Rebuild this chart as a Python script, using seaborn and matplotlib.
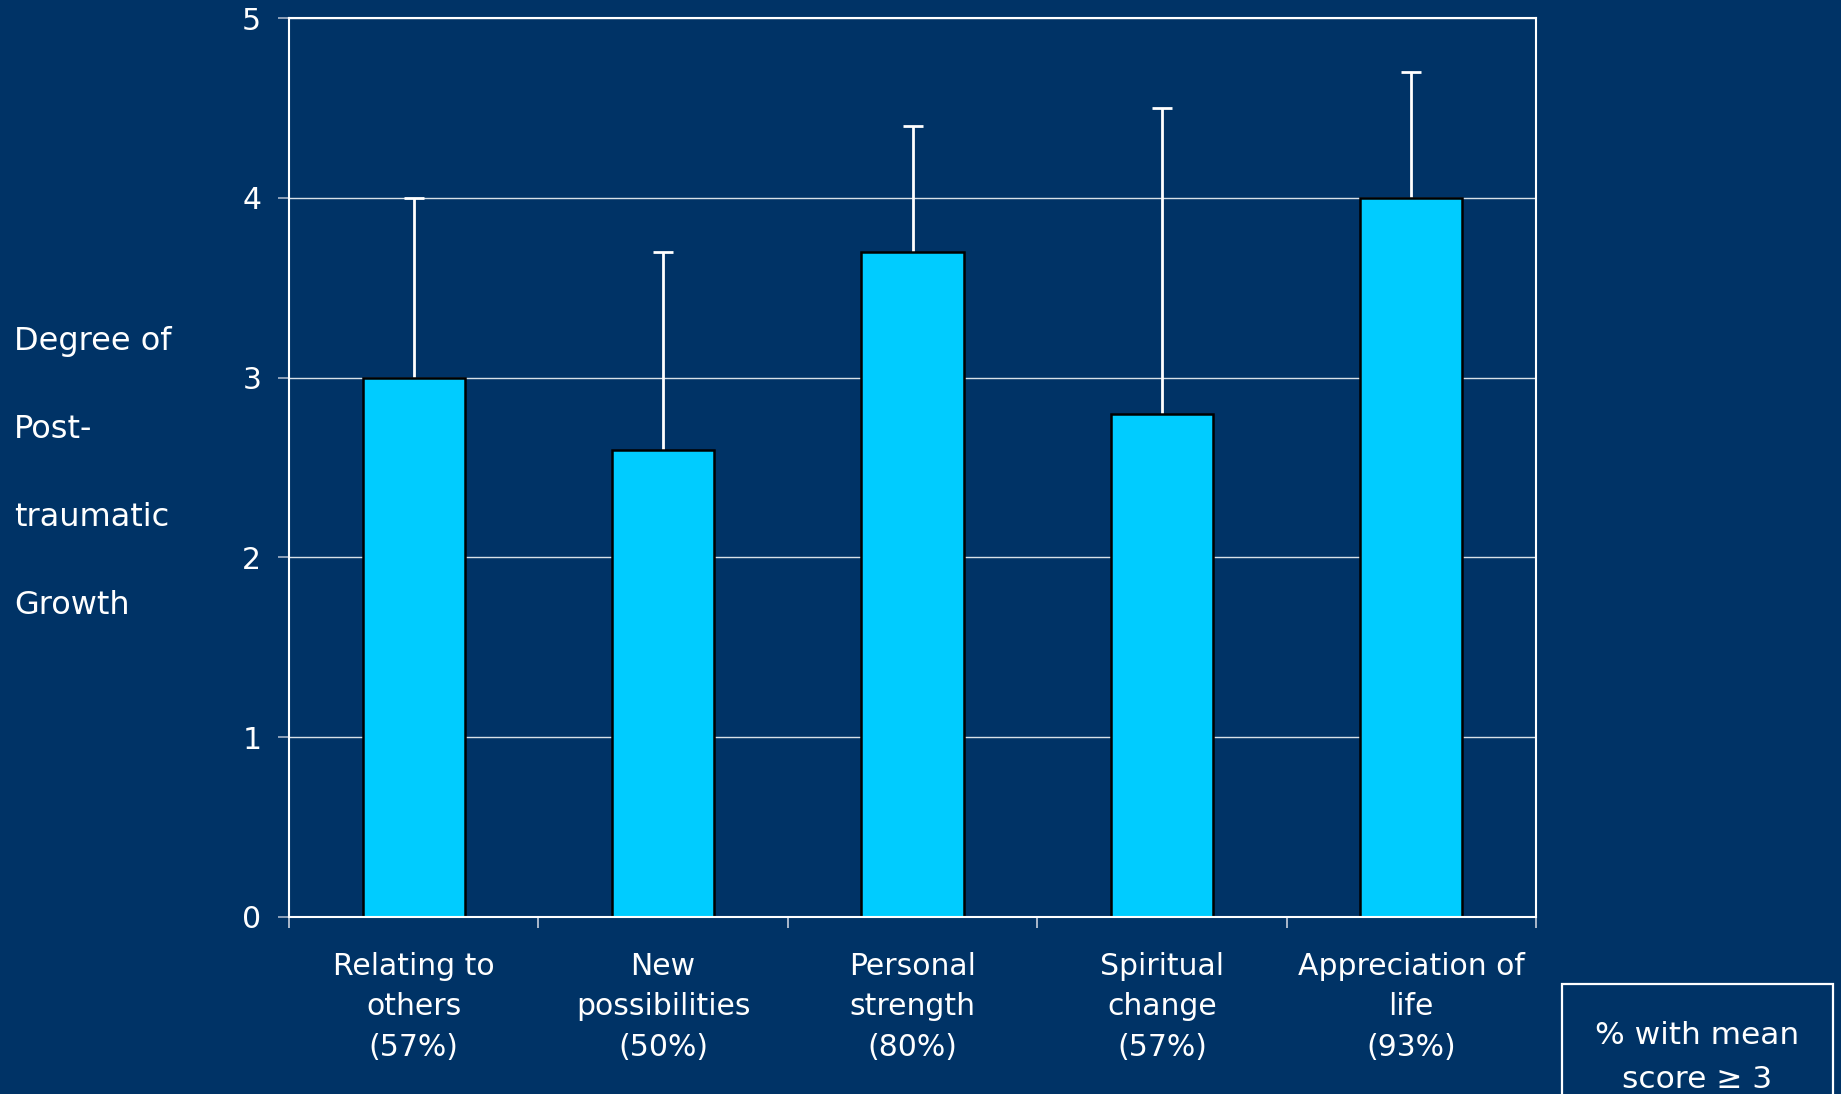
import numpy as np
import matplotlib
matplotlib.use("Agg")
import matplotlib.pyplot as plt
from matplotlib.patches import Rectangle
import seaborn as sns

# ---- data ----
categories = ["Relating to\nothers", "New\npossibilities", "Personal\nstrength",
              "Spiritual\nchange", "Appreciation of\nlife"]
pct_mean_ge3 = [57, 50, 80, 57, 93]
means = [3.0, 2.6, 3.7, 2.8, 4.0]
sd_upper = [1.0, 1.1, 0.7, 1.7, 0.7]
y_ticks = [0, 1, 2, 3, 4, 5]
ylabel_lines = ["Degree of", "Post-", "traumatic", "Growth"]
box_lines = ["% with mean", "score \u2265 3"]

BG = "#003366"
BAR = "#00CCFF"

sns.set_theme(style="white")
plt.rcParams["font.family"] = ["DejaVu Sans"]

W, H = 1841, 1094
fig = plt.figure(figsize=(W / 100, H / 100), dpi=100, facecolor=BG)
ax = fig.add_axes([289 / W, 1 - 917 / H, (1536 - 289) / W, (917 - 18) / H])
ax.set_facecolor(BG)

labels = [f"{c}\n({p}%)" for c, p in zip(categories, pct_mean_ge3)]

ax.yaxis.grid(True, color="white", linewidth=1.0, alpha=0.85, zorder=0)
ax.set_axisbelow(True)

# error bars (upper only) drawn behind the bars
x = np.arange(len(means))
eb = ax.errorbar(x, means, yerr=[np.zeros(len(means)), sd_upper], fmt="none",
                 ecolor="white", elinewidth=2.0, capsize=7, capthick=2.0, zorder=1)
for cl in eb[1]:
    if np.allclose(cl.get_ydata(), means):
        cl.set_visible(False)

sns.barplot(x=labels, y=means, color=BAR, saturation=1, edgecolor="black",
            linewidth=1.8, width=0.41, ax=ax, zorder=2)

ax.set_xlim(-0.5, len(means) - 0.5)
ax.set_ylim(0, 5)
ax.set_yticks(y_ticks)
ax.set_xlabel("")
ax.set_ylabel("")

for s in ax.spines.values():
    s.set_color("white")
    s.set_linewidth(1.5)
    s.set_visible(True)

ax.tick_params(axis="y", which="major", direction="out", length=8, width=1.2,
               color="#a8b4c8", labelcolor="white", labelsize=21.5, pad=12, left=True)
ax.tick_params(axis="x", which="major", length=0, labelcolor="white",
               labelsize=21.5, pad=25)
ax.set_xticks(np.arange(-0.5, len(means)), minor=True)
ax.tick_params(axis="x", which="minor", direction="out", length=8, width=1.2,
               color="#c8d0dc", bottom=True)
for lab in ax.get_xticklabels():
    lab.set_linespacing(1.5)

# y-axis label (stacked lines at the left)
for i, line in enumerate(ylabel_lines):
    fig.text(14 / W, 1 - (350 + 88 * i) / H, line, color="white", fontsize=23,
             ha="left", va="baseline")

# legend-like box at bottom right
fig.patches.append(Rectangle((1562 / W, -0.05), (1833 - 1562) / W, (1 - 984 / H) + 0.05,
                             transform=fig.transFigure, fill=False, edgecolor="white",
                             linewidth=1.6))
for i, line in enumerate(box_lines):
    fig.text(1697 / W, 1 - (1044 + 44 * i) / H, line, color="white", fontsize=22.5,
             ha="center", va="baseline")

fig.savefig("out.png", dpi=100, facecolor=BG)
